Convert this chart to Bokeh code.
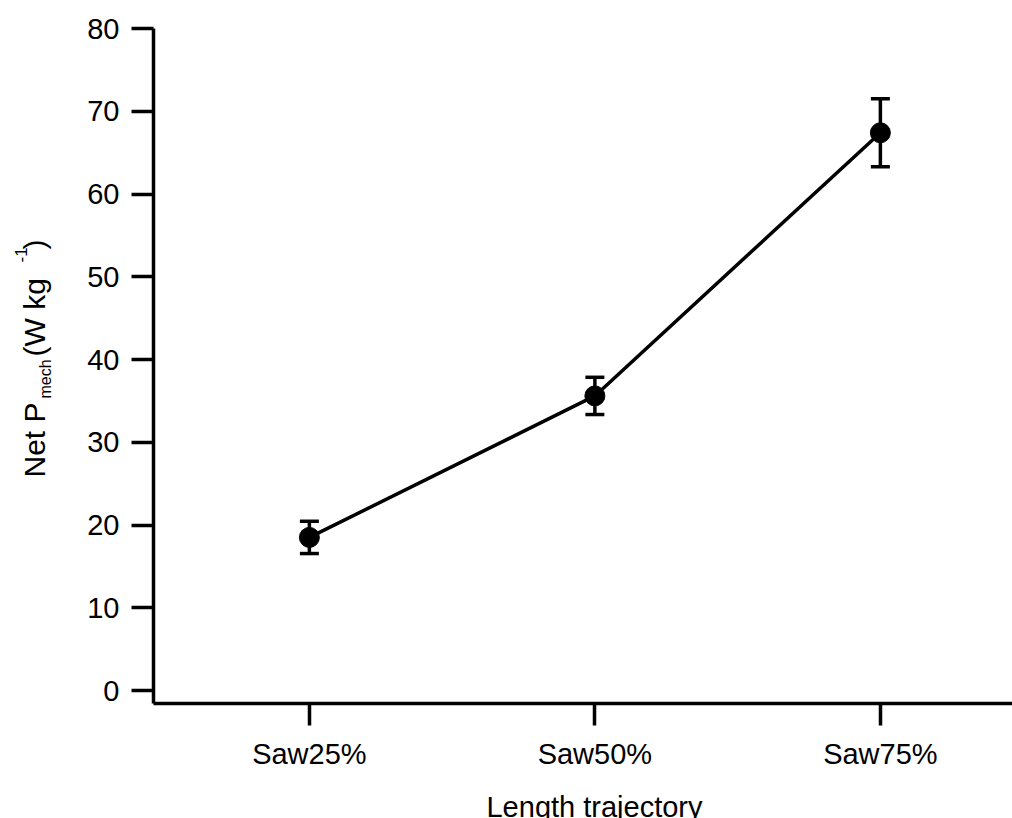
import math
from bokeh.plotting import figure
from bokeh.models import FixedTicker, Range1d, Label, Whisker, TeeHead, ColumnDataSource
from bokeh.embed import file_html
from bokeh.resources import INLINE

# ---- data ----
categories = ["Saw25%", "Saw50%", "Saw75%"]
net_pmech = [18.5, 35.6, 67.4]
err = [1.95, 2.25, 4.1]
y_ticks = [0, 10, 20, 30, 40, 50, 60, 70, 80]

FONT = "Liberation Sans"
LW = 3.5

xs = list(range(len(categories)))
src = ColumnDataSource(dict(
    x=xs, y=net_pmech,
    upper=[v + e for v, e in zip(net_pmech, err)],
    lower=[v - e for v, e in zip(net_pmech, err)],
))

X_AXIS_AT = -1.571   # y value where the x axis line sits
Y_AXIS_AT = -0.546   # x value where the y axis line sits

p = figure(width=1012, height=818, output_backend="svg", toolbar_location=None,
           x_range=Range1d(-1.0819, 2.4628), y_range=Range1d(-15.468, 83.384),
           min_border_left=0, min_border_right=0, min_border_top=0, min_border_bottom=0)
p.outline_line_color = None
p.grid.visible = False
p.background_fill_color = "white"
p.border_fill_color = "white"

for ax in (p.xaxis[0], p.yaxis[0]):
    ax.axis_line_width = LW
    ax.axis_line_color = "black"
    ax.major_tick_line_width = LW
    ax.major_tick_line_color = "black"
    ax.major_tick_out = 22
    ax.major_tick_in = 0
    ax.minor_tick_line_color = None
    ax.major_label_text_font = FONT
    ax.major_label_text_font_size = "29px"
    ax.major_label_text_color = "black"
    ax.major_label_standoff = 12

p.xaxis.fixed_location = X_AXIS_AT
p.yaxis.fixed_location = Y_AXIS_AT
p.xaxis.bounds = (Y_AXIS_AT, 2.4628)
p.yaxis.bounds = (X_AXIS_AT, 80)

p.yaxis.ticker = FixedTicker(ticks=y_ticks)
p.xaxis.ticker = FixedTicker(ticks=xs)
p.xaxis.major_label_overrides = {i: c for i, c in enumerate(categories)}

p.line("x", "y", source=src, line_width=LW, line_color="black")
w = Whisker(base="x", upper="upper", lower="lower", source=src, line_width=LW, line_color="black",
            upper_head=TeeHead(size=19, line_width=LW, line_color="black"),
            lower_head=TeeHead(size=19, line_width=LW, line_color="black"))
p.add_layout(w)
p.scatter("x", "y", source=src, size=20, marker="circle", fill_color="black", line_color="black")

# axis titles (canvas screen coordinates: x from left, y from bottom)
def lab(text, x, y, size, angle=0.0, align="left"):
    p.add_layout(Label(x=x, y=y, x_units="screen", y_units="screen", text=text,
                       angle=angle, text_font=FONT, text_font_size=size, text_color="black",
                       text_align=align, text_baseline="alphabetic"))

lab("Length trajectory", 594, 12, "29px", align="center")
r = math.pi / 2
lab("Net P", 34, 341, "30px", r)
lab("mech", 45, 420, "16px", r)
lab("(W kg", 34, 462, "30px", r)
lab("-1", 20, 556, "17px", r)
lab(")", 34, 569, "30px", r)

open("out.html", "w").write(file_html(p, INLINE))
